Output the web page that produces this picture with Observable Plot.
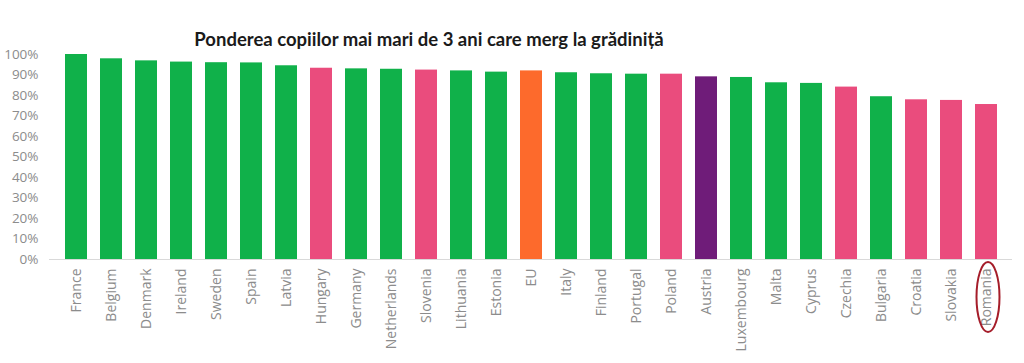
<!DOCTYPE html>
<html>
<head>
<meta charset="utf-8">
<script src="https://cdn.jsdelivr.net/npm/d3@7"></script>
<script src="https://cdn.jsdelivr.net/npm/@observablehq/plot@0.6"></script>
<style>
  body { margin: 0; background: #fff; }
  #wrap { position: relative; width: 1024px; height: 363px; }
  #title { position: absolute; top: 28px; left: 0; width: 858px; text-align: center;
           font-family: Lato, "Open Sans", sans-serif; font-weight: bold; font-size: 18.5px; color: #1a1a1a; }
</style>
</head>
<body>
<div id="wrap">
  <div id="title">Ponderea copiilor mai mari de 3 ani care merg la grădiniță</div>
  <div id="chart"></div>
</div>
<script>
const countries = ["France","Belgium","Denmark","Ireland","Sweden","Spain","Latvia","Hungary","Germany","Netherlands","Slovenia","Lithuania","Estonia","EU","Italy","Finland","Portugal","Poland","Austria","Luxembourg","Malta","Cyprus","Czechia","Bulgaria","Croatia","Slovakia","Romania"];
const values = [100.0, 97.9, 96.9, 96.3, 96.0, 95.9, 94.5, 93.3, 93.0, 92.8, 92.4, 92.0, 91.4, 92.0, 91.1, 90.6, 90.4, 90.4, 89.1, 88.8, 86.2, 85.9, 84.1, 79.4, 77.9, 77.6, 75.6];
const groups = ["a","a","a","a","a","a","a","b","a","a","b","a","a","eu","a","a","a","b","at","a","a","a","b","a","b","b","b"];
const groupKeys = ["a","b","eu","at"];
const groupColors = ["#10b14a","#ea4c7d","#fd6a2c","#6f1c79"];
const yTicks = [0,10,20,30,40,50,60,70,80,90,100];
const highlighted = "Romania";

const data = countries.map((c, i) => ({country: c, value: values[i], group: groups[i]}));

const plot = Plot.plot({
  width: 1024,
  height: 363,
  marginTop: 54,
  marginBottom: 104,
  marginLeft: 49,
  marginRight: 12,
  style: {fontFamily: "'Open Sans', sans-serif", fontSize: "13px", color: "#8c8c8c", background: "#fff"},
  x: {domain: countries, padding: 0.38, label: null},
  y: {domain: [0, 100], label: null},
  color: {domain: groupKeys, range: groupColors},
  marks: [
    Plot.axisY(yTicks, {tickFormat: d => d + "%", tickSize: 0, tickPadding: 11, fontSize: 13.5, label: null}),
    Plot.axisX({tickSize: 0, tickPadding: 9, tickRotate: -90, fontSize: 14, label: null}),
    Plot.barY(data, {x: "country", y: "value", fill: "group"}),
    Plot.ruleY([0], {stroke: "#d9d9d9", strokeWidth: 1})
  ]
});
document.getElementById("chart").appendChild(plot);

// red ellipse around the highlighted label, positioned with the plot's x scale
const xs = plot.scale("x");
const cx = xs.apply(highlighted) + xs.bandwidth / 2 + 2;
const ns = "http://www.w3.org/2000/svg";
const el = document.createElementNS(ns, "ellipse");
el.setAttribute("cx", cx);
el.setAttribute("cy", 297);
el.setAttribute("rx", 11.5);
el.setAttribute("ry", 35);
el.setAttribute("fill", "none");
el.setAttribute("stroke", "#a51d2a");
el.setAttribute("stroke-width", 2);
plot.appendChild(el);
</script>
</body>
</html>
